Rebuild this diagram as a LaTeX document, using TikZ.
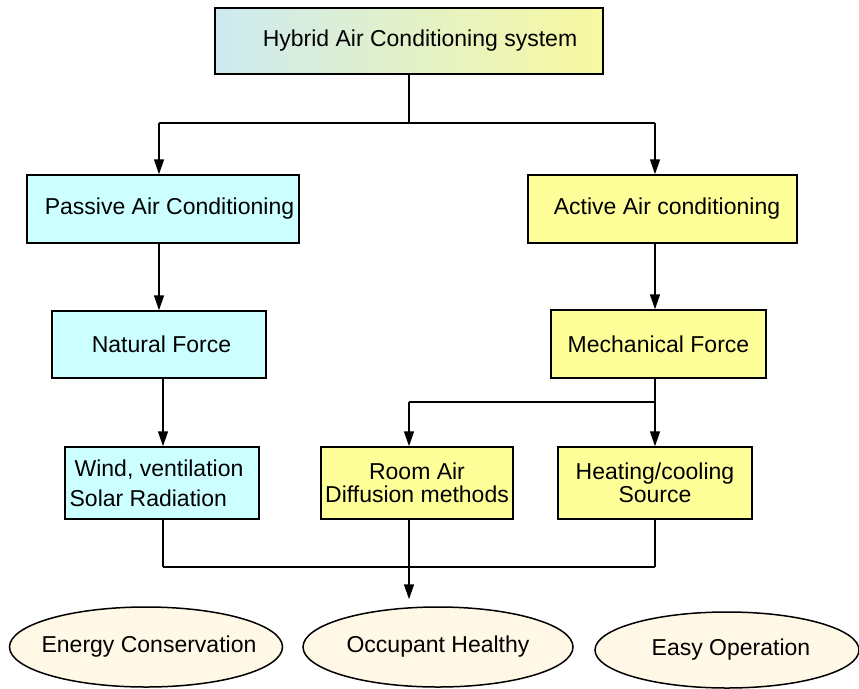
\documentclass[tikz,border=0pt]{standalone}
\usepackage{fontspec}
\setmainfont{Liberation Sans}
\usetikzlibrary{arrows.meta,shapes.geometric}
\definecolor{pcyan}{HTML}{CCFFFF}
\definecolor{pyellow}{HTML}{FFFF99}
\definecolor{pcream}{HTML}{FFF8E6}
\definecolor{gleft}{HTML}{CDEAF0}
\definecolor{gright}{HTML}{F8F8A0}
\tikzset{
  box/.style={draw=black, line width=1.5pt, rectangle, inner sep=2pt, font=\fontsize{23}{24}\selectfont, align=center},
  oval/.style={draw=black, line width=1.5pt, ellipse, fill=pcream, inner sep=0pt, font=\fontsize{23}{24}\selectfont},
  conn/.style={line width=1.5pt, draw=black},
  arr/.style={conn, -{Triangle[length=15pt,width=10pt]}}
}
\begin{document}
\begin{tikzpicture}[x=1pt,y=-1pt]
\useasboundingbox (0,0) rectangle (859,688);
% boxes
\node[box, left color=gleft, right color=gright, minimum width=388pt, minimum height=66pt] (top) at (409,41) {\hspace*{22pt}Hybrid Air Conditioning system};
\node[box, fill=pcyan, minimum width=272pt, minimum height=68pt] (pas) at (163,209) {\hspace*{13pt}Passive Air Conditioning};
\node[box, fill=pyellow, minimum width=269pt, minimum height=68pt] (act) at (662.5,209) {\hspace*{9pt}Active Air conditioning};
\node[box, fill=pcyan, minimum width=214pt, minimum height=67pt] (nat) at (159,344.5) {\hspace*{5pt}Natural Force};
\node[box, fill=pyellow, minimum width=215pt, minimum height=68pt] (mech) at (658.5,344) {Mechanical Force};
\node[box, fill=pcyan, minimum width=194pt, minimum height=72pt, align=left, font=\fontsize{23}{30}\selectfont] (wind) at (162,483) {\hspace*{5pt}Wind, ventilation\hspace*{11pt}\\Solar Radiation};
\node[box, fill=pyellow, minimum width=192pt, minimum height=72pt, font=\fontsize{23}{23}\selectfont] (room) at (417,483) {Room Air\\Diffusion methods};
\node[box, fill=pyellow, minimum width=194pt, minimum height=72pt, font=\fontsize{23}{23}\selectfont] (heat) at (655,483) {Heating/cooling\\Source};
% ellipses
\node[oval, minimum width=273pt, minimum height=80pt] (energy) at (146,647) {\makebox[0pt]{\hspace*{6pt}Energy Conservation}};
\node[oval, minimum width=270pt, minimum height=80pt] (occ) at (438,647) {\makebox[0pt]{Occupant Healthy}};
\node[oval, minimum width=264pt, minimum height=76pt] (easy) at (727,650) {\makebox[0pt]{\hspace*{8pt}Easy Operation}};
% coordinates
\coordinate (tsplit) at (409,123);
\coordinate (tl) at (159,123);
\coordinate (tr) at (655,123);
\coordinate (msplit) at (655,402);
\coordinate (ml) at (409,402);
\coordinate (bl) at (163,567);
\coordinate (bm) at (409,567);
\coordinate (br) at (655,567);
% connectors
\draw[conn] (top.south -| tsplit) -- (tsplit);
\draw[conn] (tl) -- (tr);
\draw[arr] (tl) -- (pas.north -| tl);
\draw[arr] (tr) -- (act.north -| tr);
\draw[arr] (pas.south -| tl) -- (nat.north -| tl);
\draw[arr] (act.south -| tr) -- (mech.north -| tr);
\draw[arr] (nat.south -| bl) -- (wind.north -| bl);
\draw[conn] (mech.south -| msplit) -- (msplit);
\draw[conn] (msplit) -- (ml);
\draw[arr] (ml) -- (room.north -| ml);
\draw[arr] (msplit) -- (heat.north -| msplit);
\draw[conn] (wind.south -| bl) -- (bl);
\draw[conn] (room.south -| bm) -- (bm);
\draw[conn] (heat.south -| br) -- (br);
\draw[conn] (bl) -- (br);
\draw[arr, shorten >=7pt] (bm) -- (occ.north -| bm);
\end{tikzpicture}
\end{document}
